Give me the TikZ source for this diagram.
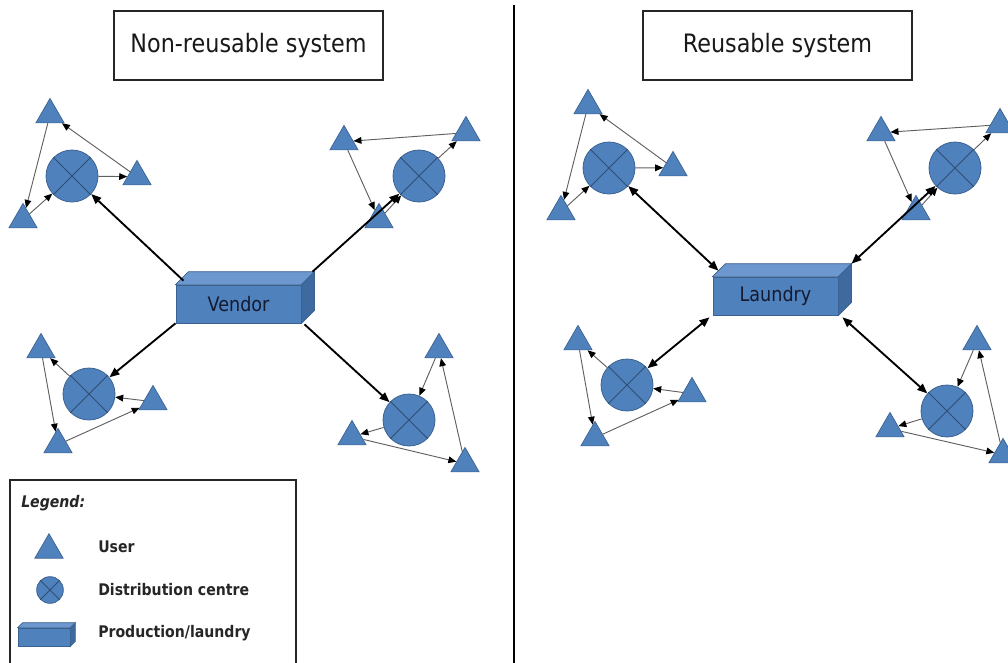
\documentclass[tikz,border=0pt]{standalone}
\usepackage{fontspec}
\setmainfont{DejaVu Sans}[FakeStretch=0.88]
\usetikzlibrary{shapes.geometric,arrows.meta,calc}
\definecolor{shapeblue}{HTML}{4F81BD}
\definecolor{shapeedge}{HTML}{3B6190}
\definecolor{topblue}{HTML}{6C98CF}
\definecolor{sideblue}{HTML}{3E6A9F}
\definecolor{thinline}{HTML}{606060}
\definecolor{boxtext}{HTML}{141A30}

% cross inside a distribution centre
\newcommand\dccross[1]{\draw[shapeedge!80!black,line width=0.7pt] (#1.north west) -- (#1.south east) (#1.north east) -- (#1.south west);}
% top and side faces of a 3D block: node, depth
\newcommand\blockfaces[2]{%
  \filldraw[fill=topblue,draw=shapeedge,line width=0.5pt] (#1.north west) -- ++(#2,-#2) -- ($(#1.north east)+(#2,-#2)$) -- (#1.north east) -- cycle;
  \filldraw[fill=sideblue,draw=shapeedge,line width=0.5pt] (#1.north east) -- ++(#2,-#2) -- ($(#1.south east)+(#2,-#2)$) -- (#1.south east) -- cycle;}

\begin{document}
\begin{tikzpicture}[x=0.75pt,y=-0.75pt,
  user/.style={regular polygon,regular polygon sides=3,minimum size=24.5pt,inner sep=0pt,fill=shapeblue,draw=shapeedge,line width=0.5pt},
  centre/.style={circle,minimum size=39pt,inner sep=0pt,fill=shapeblue,draw=shapeedge,line width=0.6pt},
  plant/.style={rectangle,minimum width=94pt,minimum height=28.5pt,inner sep=0pt,fill=shapeblue,draw=shapeedge,line width=0.5pt,text=boxtext,font=\fontsize{15}{18}\selectfont},
  flow/.style={-{Triangle[length=6pt,width=5pt,color=black]},draw=thinline,line width=0.7pt},
  supply/.style={-{Triangle[length=7.5pt,width=6pt]},line width=1.4pt},
  twoway/.style={{Triangle[length=7.5pt,width=6pt]}-{Triangle[length=7.5pt,width=6pt]},line width=1.4pt},
  titlebox/.style={draw=black!85,line width=1pt,fill=white,minimum width=201.75pt,minimum height=51.75pt,inner sep=0pt,text=black!90,font=\fontsize{19}{22}\selectfont},
  legtext/.style={anchor=west,inner sep=0pt,font=\fontsize{12}{14}\selectfont\bfseries,text=black!85},
]
\useasboundingbox (0,0) rectangle (1008,662);

% divider between the two systems
\draw[line width=1.6pt] (514,5) -- (514,668);

% titles
\node[titlebox] (t1) at (248.5,45.5) {\raisebox{-1.5pt}{Non-reusable system}};
\node[titlebox] (t2) at (777.5,45.5) {\raisebox{-1.5pt}{Reusable system}};

% ---------------- non-reusable system ----------------
\node[plant] (vendor) at (238.5,304) {Vendor};
\blockfaces{vendor}{13}
\coordinate (vtl) at ($(vendor.north west)+(8,-4)$);
\coordinate (vtr) at ($(vendor.north east)+(11,-13)$);
\coordinate (vbl) at (vendor.south west);
\coordinate (vbr) at ($(vendor.south east)+(3,1)$);

% cluster A (top left)
\node[centre] (a) at (72,176) {}; \dccross{a}
\node[user] (a1) at (50,114.7) {};
\node[user] (a2) at (137,176.7) {};
\node[user] (a3) at (23,219.7) {};
% cluster B (top right)
\node[centre] (b) at (419,176) {}; \dccross{b}
\node[user] (b1) at (344,141.7) {};
\node[user] (b2) at (466,132.7) {};
\node[user] (b3) at (379,219.7) {};
% cluster C (bottom left)
\node[centre] (c) at (89,394) {}; \dccross{c}
\node[user] (c1) at (41,349.7) {};
\node[user] (c2) at (153,401.7) {};
\node[user] (c3) at (58,444.7) {};
% cluster D (bottom right)
\node[centre] (d) at (409,420) {}; \dccross{d}
\node[user] (d1) at (439,349.7) {};
\node[user] (d2) at (352,436.7) {};
\node[user] (d3) at (465,463.7) {};

\draw[flow] (a) -- (a2); \draw[flow] (a2) -- (a1); \draw[flow] (a1) -- (a3); \draw[flow] (a3) -- (a);
\draw[flow] (b2) -- (b1); \draw[flow] (b1) -- (b3); \draw[flow] (b3) -- (b); \draw[flow] (b) -- (b2);
\draw[flow] (c) -- (c1); \draw[flow] (c1) -- (c3); \draw[flow] (c3) -- (c2); \draw[flow] (c2) -- (c);
\draw[flow] (d1) -- (d); \draw[flow] (d) -- (d2); \draw[flow] (d2) -- (d3); \draw[flow] (d3) -- (d1);

\draw[supply] (vtl) -- (a);
\draw[supply] (vtr) -- (b);
\draw[supply] (vbl) -- (c);
\draw[supply] (vbr) -- (d);

% ---------------- reusable system ----------------
\node[plant] (laundry) at (775.5,296) {Laundry};
\blockfaces{laundry}{13}
\coordinate (ltl) at ($(laundry.north west)+(6,-6)$);
\coordinate (ltr) at ($(laundry.north east)+(13,-13)$);
\coordinate (lbl) at ($(laundry.south west)+(-3,2)$);
\coordinate (lbr) at ($(laundry.south east)+(4,2)$);

% cluster E (top left)
\node[centre] (e) at (609,168) {}; \dccross{e}
\node[user] (e1) at (588,105.7) {};
\node[user] (e2) at (673,167.7) {};
\node[user] (e3) at (561,211.7) {};
% cluster F (top right)
\node[centre] (f) at (955,168) {}; \dccross{f}
\node[user] (f1) at (881,132.7) {};
\node[user] (f2) at (1000,124.7) {};
\node[user] (f3) at (916,211.7) {};
% cluster G (bottom left)
\node[centre] (g) at (627,385) {}; \dccross{g}
\node[user] (g1) at (578,341.7) {};
\node[user] (g2) at (692,393.7) {};
\node[user] (g3) at (595,437.7) {};
% cluster H (bottom right)
\node[centre] (h) at (947,411) {}; \dccross{h}
\node[user] (h1) at (977,341.7) {};
\node[user] (h2) at (890,428.7) {};
\node[user] (h3) at (1003,454.7) {};

\draw[flow] (e) -- (e2); \draw[flow] (e2) -- (e1); \draw[flow] (e1) -- (e3); \draw[flow] (e3) -- (e);
\draw[flow] (f2) -- (f1); \draw[flow] (f1) -- (f3); \draw[flow] (f3) -- (f); \draw[flow] (f) -- (f2);
\draw[flow] (g) -- (g1); \draw[flow] (g1) -- (g3); \draw[flow] (g3) -- (g2); \draw[flow] (g2) -- (g);
\draw[flow] (h1) -- (h); \draw[flow] (h) -- (h2); \draw[flow] (h2) -- (h3); \draw[flow] (h3) -- (h1);

\draw[twoway] (ltl) -- (e);
\draw[twoway] (ltr) -- (f);
\draw[twoway] (lbl) -- (g);
\draw[twoway] (lbr) -- (h);

% ---------------- legend ----------------
\draw[black!85,line width=1pt,fill=white] (10,672) -- (10,480) -- (296,480) -- (296,672);
\node[anchor=west,inner sep=0pt,font=\fontsize{12}{14}\selectfont\bfseries\itshape,text=black!85] (leg) at (21,503) {Legend:};
\node[user] (ku) at (49,550) {};
\node[legtext] (kut) at (98,547) {User};
\node[centre,minimum size=20pt] (kc) at (50,590) {}; \dccross{kc}
\node[legtext] (kct) at (98,590) {Distribution centre};
\node[plant,minimum width=39pt,minimum height=13.5pt] (kp) at (44,637) {};
\blockfaces{kp}{5}
\node[legtext] (kpt) at (98,633) {Production/laundry};
\end{tikzpicture}
\end{document}
